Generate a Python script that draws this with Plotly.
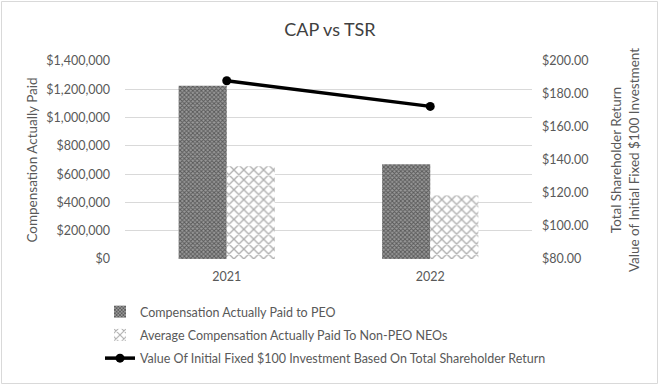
import plotly.graph_objects as go

years = ["2021", "2022"]
cap_peo = [1225000, 670000]
cap_non_peo = [655000, 452000]
tsr = [188.0, 172.5]

W, H = 660, 387
L, R, T, B = 125, 128, 61, 128
pw, ph = W - L - R, H - T - B

font_family = "Lato, Open Sans, sans-serif"
grey = "#595959"

fig = go.Figure()
fig.add_trace(go.Bar(
    x=years, y=cap_peo, name="Compensation Actually Paid to PEO",
    marker=dict(color="#8c8c8c", line=dict(width=0),
                pattern=dict(shape="x", size=3, fgcolor="#1a1a1a", bgcolor="#9a9a9a", solidity=0.55)),
    legendgroup="a",
))
fig.add_trace(go.Bar(
    x=years, y=cap_non_peo, name="Average Compensation Actually Paid To Non-PEO NEOs",
    marker=dict(color="white", line=dict(width=0),
                pattern=dict(shape="x", size=7, fgcolor="#5e5e5e", bgcolor="white", solidity=0.35)),
    legendgroup="b",
))
fig.add_trace(go.Scatter(
    x=years, y=tsr, name="Value Of Initial Fixed $100 Investment Based On Total Shareholder Return",
    mode="lines+markers", yaxis="y2",
    line=dict(color="black", width=3.5), marker=dict(color="black", size=9),
    legendgroup="c",
))

fig.update_layout(
    width=W, height=H,
    margin=dict(l=L, r=R, t=T, b=B),
    paper_bgcolor="white", plot_bgcolor="white",
    font=dict(family=font_family, color=grey, size=12),
    title=dict(text="CAP vs TSR", x=0.5, xanchor="center", y=1 - 30 / H, yanchor="middle",
               font=dict(size=18, color="#404040")),
    barmode="group", bargap=0.527, bargroupgap=0,
    xaxis=dict(showgrid=False, showline=False, ticks="", ticklabelstandoff=8,
               tickfont=dict(size=12.5, color=grey)),
    yaxis=dict(range=[0, 1400000], dtick=200000, tickprefix="$", tickformat=",.0f",
               gridcolor="#d9d9d9", gridwidth=1, zeroline=False, showline=False, ticklabelstandoff=14,
               title=dict(text="Compensation Actually Paid", font=dict(size=13.5, color=grey), standoff=5),
               tickfont=dict(size=12.5, color=grey)),
    yaxis2=dict(range=[80, 200], dtick=20, tickprefix="$", tickformat=".2f", overlaying="y", side="right",
                showgrid=False, zeroline=False, showline=False, ticklabelstandoff=9,
                title=dict(text="Total Shareholder Return<br>Value of Initial Fixed $100 Investment",
                           font=dict(size=13.5, color=grey), standoff=24),
                tickfont=dict(size=12.5, color=grey)),
    legend=dict(orientation="v", x=(100 - L) / pw, xanchor="left", y=(H - B - 297) / ph, yanchor="top",
                font=dict(size=12.5, color=grey), tracegroupgap=4, bgcolor="rgba(0,0,0,0)"),
    showlegend=True,
    shapes=[dict(type="rect", xref="paper", yref="paper",
                 x0=(1.5 - L) / pw, x1=(W - 2.5 - L) / pw,
                 y0=(H - B - (H - 3.5)) / ph, y1=(H - B - 1.5) / ph,
                 line=dict(color="#d9d9d9", width=1), fillcolor="rgba(0,0,0,0)", layer="below")],
)

fig.write_html("out.html", post_script="document.body.style.margin='0';",
               config={"displayModeBar": False})
